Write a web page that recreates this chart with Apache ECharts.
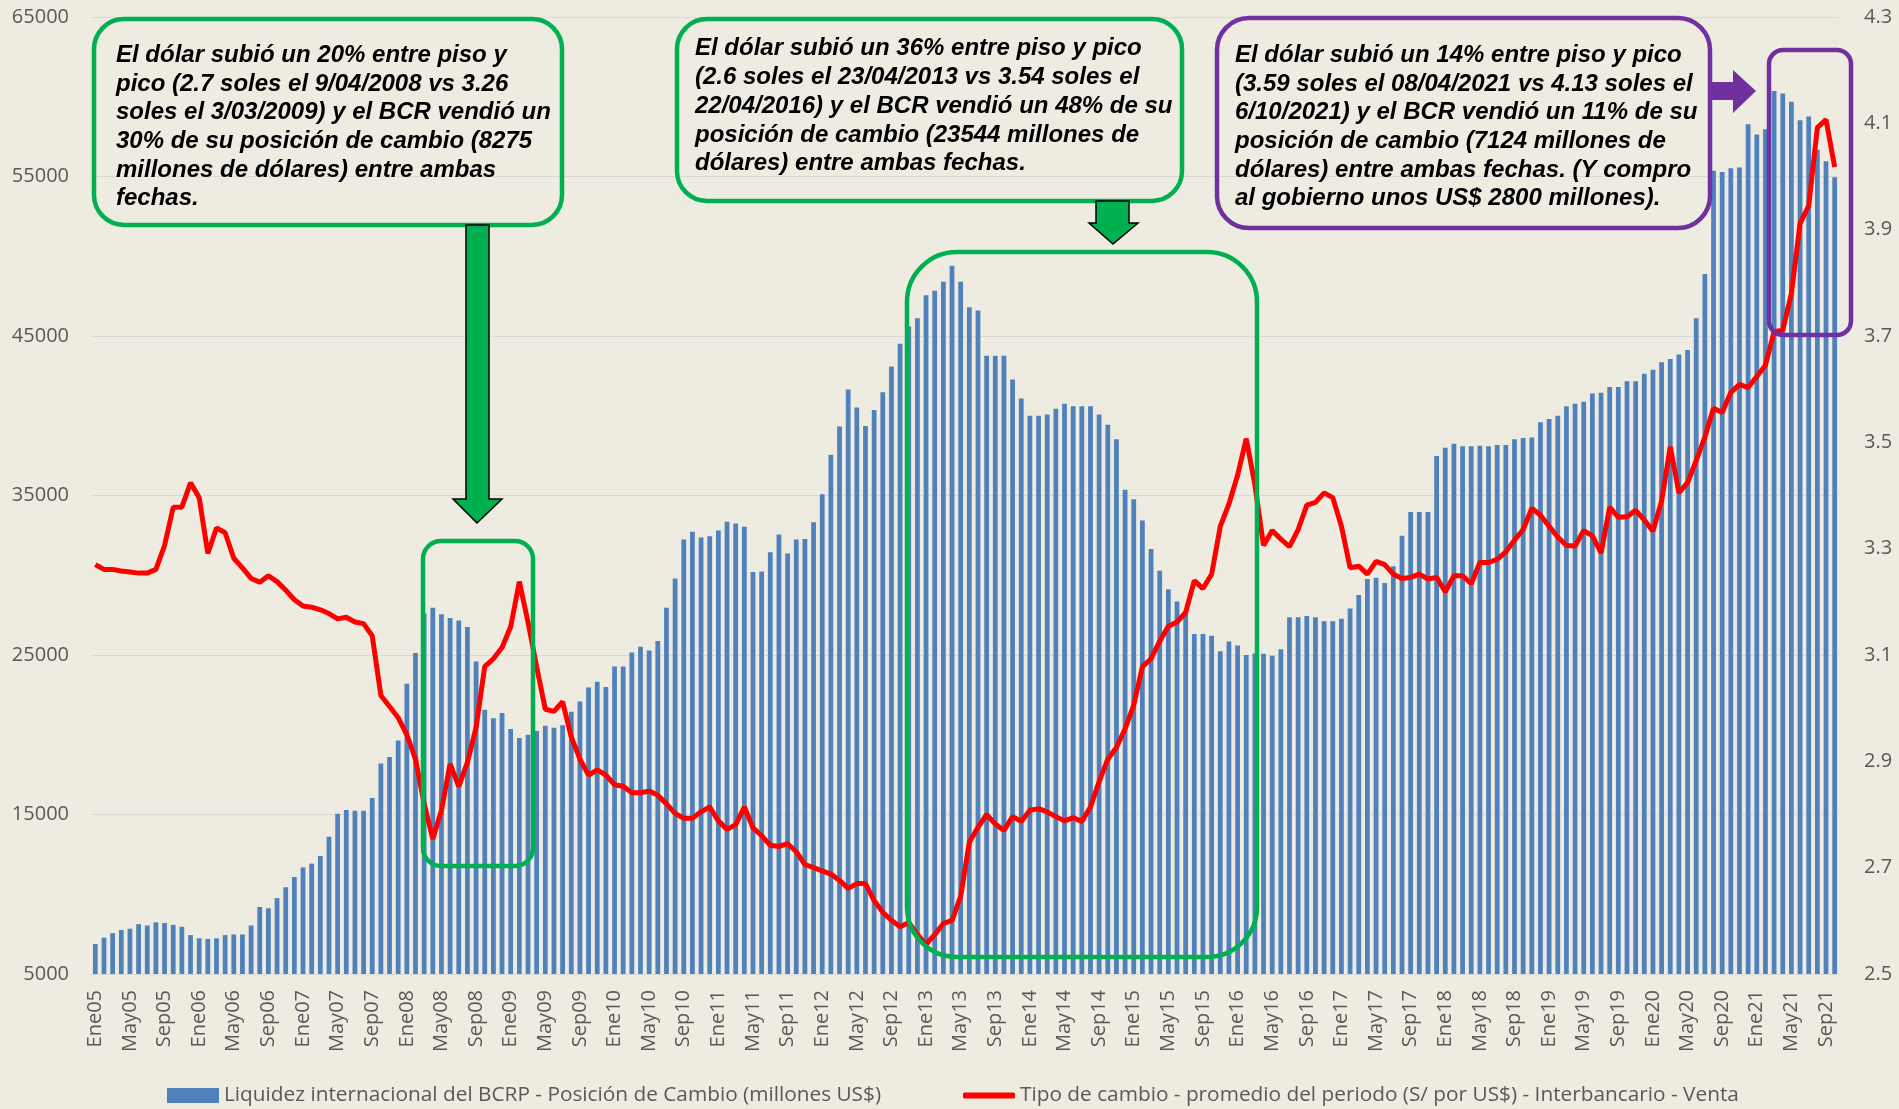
<!DOCTYPE html>
<html>
<head>
<meta charset="utf-8">
<title>Posición de cambio y tipo de cambio</title>
<script src="https://cdn.jsdelivr.net/npm/echarts@6/dist/echarts.min.js"></script>
<style>
  html, body { margin: 0; padding: 0; background: #EEEBE0; }
  #main { width: 1899px; height: 1109px; }
</style>
</head>
<body>
<div id="main"></div>
<script>
// meses y años del eje (Ene05 .. Oct21)
var meses = ['Ene','Feb','Mar','Abr','May','Jun','Jul','Ago','Sep','Oct','Nov','Dic'];
var anios = ['05','06','07','08','09','10','11','12','13','14','15','16','17','18','19','20','21'];
var nMeses = 202;

// Liquidez internacional del BCRP - Posición de Cambio (millones US$)
var posicion = [
  6880, 7280, 7560, 7760, 7840, 8120, 8040, 8240, 8200, 8080, 7960, 7440,
  7240, 7200, 7240, 7440, 7480, 7480, 8040, 9200, 9120, 9760, 10440, 11080,
  11680, 11920, 12400, 13600, 15040, 15280, 15240, 15240, 16040, 18200, 18600, 19640,
  23200, 25120, 27600, 27960, 27560, 27320, 27160, 26760, 24600, 21560, 21040, 21360,
  20360, 19800, 20000, 20240, 20560, 20440, 20600, 21440, 22080, 22960, 23320, 23000,
  24280, 24280, 25160, 25520, 25280, 25880, 27960, 29800, 32240, 32720, 32360, 32440,
  32800, 33360, 33240, 33040, 30200, 30240, 31440, 32560, 31360, 32240, 32280, 33320,
  35080, 37560, 39320, 41640, 40520, 39360, 40360, 41480, 43080, 44520, 45600, 46120,
  47560, 47840, 48400, 49400, 48400, 46800, 46600, 43760, 43760, 43760, 42280, 41080,
  40000, 40000, 40080, 40440, 40760, 40600, 40600, 40600, 40080, 39440, 38520, 35360,
  34760, 33440, 31640, 30280, 29120, 28360, 27760, 26320, 26320, 26200, 25240, 25840,
  25600, 25000, 25100, 25080, 24960, 25360, 27360, 27360, 27440, 27360, 27120, 27120,
  27280, 27920, 28760, 29760, 29840, 29520, 30560, 32480, 33960, 33960, 33960, 37480,
  38000, 38240, 38080, 38080, 38120, 38080, 38160, 38160, 38520, 38600, 38640, 39600,
  39800, 40000, 40600, 40760, 40880, 41400, 41440, 41800, 41800, 42160, 42160, 42640,
  42880, 43360, 43560, 43840, 44120, 46120, 48880, 55360, 55280, 55520, 55560, 58280,
  57640, 57960, 60360, 60200, 59680, 58520, 58760, 56680, 55960, 54960
];

// Tipo de cambio - promedio del periodo (S/ por US$) - Interbancario - Venta
var tipoCambio = [
  3.270, 3.261, 3.261, 3.258, 3.256, 3.254, 3.254, 3.261, 3.306, 3.378, 3.378, 3.424,
  3.396, 3.291, 3.339, 3.330, 3.282, 3.264, 3.244, 3.237, 3.249, 3.238, 3.222, 3.204,
  3.192, 3.190, 3.185, 3.178, 3.168, 3.171, 3.162, 3.159, 3.136, 3.024, 3.003, 2.982,
  2.950, 2.904, 2.820, 2.754, 2.808, 2.895, 2.853, 2.898, 2.964, 3.078, 3.093, 3.114,
  3.153, 3.238, 3.162, 3.078, 2.998, 2.994, 3.012, 2.946, 2.904, 2.874, 2.884, 2.874,
  2.856, 2.853, 2.841, 2.841, 2.844, 2.836, 2.820, 2.802, 2.793, 2.793, 2.805, 2.814,
  2.788, 2.772, 2.781, 2.814, 2.775, 2.760, 2.742, 2.740, 2.745, 2.730, 2.706, 2.700,
  2.694, 2.688, 2.676, 2.661, 2.670, 2.670, 2.638, 2.616, 2.601, 2.589, 2.597, 2.574,
  2.556, 2.574, 2.595, 2.601, 2.646, 2.748, 2.776, 2.800, 2.782, 2.770, 2.796, 2.787,
  2.808, 2.811, 2.805, 2.796, 2.788, 2.794, 2.787, 2.814, 2.862, 2.904, 2.926, 2.961,
  3.006, 3.078, 3.093, 3.126, 3.154, 3.162, 3.180, 3.240, 3.225, 3.252, 3.342, 3.384,
  3.438, 3.507, 3.420, 3.306, 3.334, 3.318, 3.304, 3.336, 3.382, 3.387, 3.405, 3.396,
  3.342, 3.264, 3.267, 3.252, 3.276, 3.270, 3.252, 3.244, 3.246, 3.252, 3.243, 3.246,
  3.219, 3.249, 3.249, 3.234, 3.274, 3.274, 3.280, 3.294, 3.316, 3.336, 3.376, 3.363,
  3.342, 3.322, 3.306, 3.305, 3.334, 3.324, 3.292, 3.378, 3.359, 3.360, 3.372, 3.354,
  3.333, 3.390, 3.492, 3.405, 3.424, 3.466, 3.510, 3.564, 3.556, 3.594, 3.609, 3.603,
  3.624, 3.645, 3.708, 3.711, 3.780, 3.912, 3.945, 4.092, 4.107, 4.018
];

var nombreBarras = 'Liquidez internacional del BCRP - Posición de Cambio (millones US$)';
var nombreLinea = 'Tipo de cambio - promedio del periodo (S/ por US$) - Interbancario - Venta';

var texto1 = 'El dólar subió un 20% entre piso y\npico (2.7 soles el 9/04/2008 vs 3.26\nsoles el 3/03/2009) y el BCR vendió un\n30% de su posición de cambio (8275\nmillones de dólares) entre ambas\nfechas.';
var texto2 = 'El dólar subió un 36% entre piso y pico\n(2.6 soles el 23/04/2013 vs 3.54 soles el\n22/04/2016) y el BCR vendió un 48% de su\nposición de cambio (23544 millones de\ndólares) entre ambas fechas.';
var texto3 = 'El dólar subió un 14% entre piso y pico\n(3.59 soles el 08/04/2021 vs 4.13 soles el\n6/10/2021) y el BCR vendió un 11% de su\nposición de cambio (7124 millones de\ndólares) entre ambas fechas. (Y compro\nal gobierno unos US$ 2800 millones).';

var categorias = [];
for (var i = 0; i < nMeses; i++) {
  categorias.push(meses[i % 12] + anios[Math.floor(i / 12)]);
}

var verde = '#00B050';
var morado = '#7030A0';
var gris = '#595959';
var fuente = '"Open Sans", sans-serif';
var fuenteNota = 'italic bold 24px "Liberation Sans", Arial, sans-serif';

var myChart = echarts.init(document.getElementById('main'));

var option = {
  backgroundColor: '#EEEBE0',
  animation: false,
  textStyle: { fontFamily: fuente },
  grid: { left: 91, right: 60, top: 17, bottom: 135 },
  legend: [
    {
      left: 167,
      top: 1085,
      padding: 0,
      itemWidth: 52,
      itemHeight: 15,
      textStyle: { color: gris, fontSize: 20.8, fontFamily: fuente },
      data: [{ name: nombreBarras, icon: 'rect' }]
    },
    {
      left: 963,
      top: 1085,
      padding: 0,
      itemWidth: 52,
      itemHeight: 6,
      textStyle: { color: gris, fontSize: 20.8, fontFamily: fuente },
      data: [{ name: nombreLinea, icon: 'roundRect' }]
    }
  ],
  xAxis: {
    type: 'category',
    data: categorias,
    axisTick: { show: false },
    axisLine: { lineStyle: { color: '#D9D9D9' } },
    axisLabel: {
      interval: 3,
      rotate: 90,
      margin: 16,
      color: gris,
      fontSize: 20,
      fontFamily: fuente
    }
  },
  yAxis: [
    {
      type: 'value',
      min: 5000,
      max: 65000,
      interval: 10000,
      axisLine: { show: false },
      axisTick: { show: false },
      axisLabel: {
        color: gris, fontSize: 20, margin: 22, fontFamily: fuente,
        formatter: function (v) { return String(v); }
      },
      splitLine: { lineStyle: { color: '#D9D9D9', width: 1 } }
    },
    {
      type: 'value',
      min: 2.5,
      max: 4.3,
      interval: 0.2,
      axisLine: { show: false },
      axisTick: { show: false },
      splitLine: { show: false },
      axisLabel: {
        color: gris,
        fontSize: 20,
        margin: 25,
        fontFamily: fuente,
        formatter: function (v) { return v.toFixed(1); }
      }
    }
  ],
  series: [
    {
      name: nombreBarras,
      type: 'bar',
      yAxisIndex: 0,
      barWidth: '55%',
      itemStyle: { color: '#4F81BD' },
      data: posicion
    },
    {
      name: nombreLinea,
      type: 'line',
      yAxisIndex: 1,
      symbol: 'none',
      z: 5,
      lineStyle: { color: '#FF0000', width: 5 },
      itemStyle: { color: '#FF0000' },
      data: tipoCambio
    }
  ],
  graphic: [
    // recuadros con los textos
    { type: 'rect', z: 100, shape: { x: 94, y: 19, width: 468, height: 206, r: 30 },
      style: { fill: null, stroke: verde, lineWidth: 4.5 } },
    { type: 'text', z: 101, x: 116, y: 41, style: { text: texto1, font: fuenteNota, fill: '#000', lineHeight: 28.7, verticalAlign: 'top' } },

    { type: 'rect', z: 100, shape: { x: 677, y: 19, width: 505, height: 182, r: 30 },
      style: { fill: null, stroke: verde, lineWidth: 4.5 } },
    { type: 'text', z: 101, x: 695, y: 34.5, style: { text: texto2, font: fuenteNota, fill: '#000', lineHeight: 28.7, verticalAlign: 'top' } },

    { type: 'rect', z: 100, shape: { x: 1217, y: 18, width: 493, height: 210, r: 32 },
      style: { fill: null, stroke: morado, lineWidth: 4.5 } },
    { type: 'text', z: 101, x: 1235, y: 41, style: { text: texto3, font: fuenteNota, fill: '#000', lineHeight: 28.7, verticalAlign: 'top' } },

    // flechas
    { type: 'polygon', z: 100,
      shape: { points: [[466, 225], [489, 225], [489, 499], [502, 499], [477, 523], [453, 499], [466, 499]] },
      style: { fill: verde, stroke: '#000', lineWidth: 1.5 } },
    { type: 'polygon', z: 100,
      shape: { points: [[1096, 201], [1129, 201], [1129, 223], [1138, 223], [1113, 244], [1089, 223], [1096, 223]] },
      style: { fill: verde, stroke: '#000', lineWidth: 1.5 } },
    { type: 'polygon', z: 100,
      shape: { points: [[1710, 82], [1733, 82], [1733, 70], [1756, 91], [1733, 113], [1733, 100], [1710, 100]] },
      style: { fill: morado } },

    // recuadros sobre los periodos
    { type: 'rect', z: 100, shape: { x: 423, y: 541, width: 110, height: 325, r: 18 },
      style: { fill: null, stroke: verde, lineWidth: 4.5 } },
    { type: 'rect', z: 100, shape: { x: 907, y: 252, width: 350, height: 705, r: 50 },
      style: { fill: null, stroke: verde, lineWidth: 4.5 } },
    { type: 'rect', z: 100, shape: { x: 1769, y: 50, width: 82, height: 285, r: 14 },
      style: { fill: null, stroke: morado, lineWidth: 4.5 } }
  ]
};

myChart.setOption(option);
</script>
</body>
</html>
